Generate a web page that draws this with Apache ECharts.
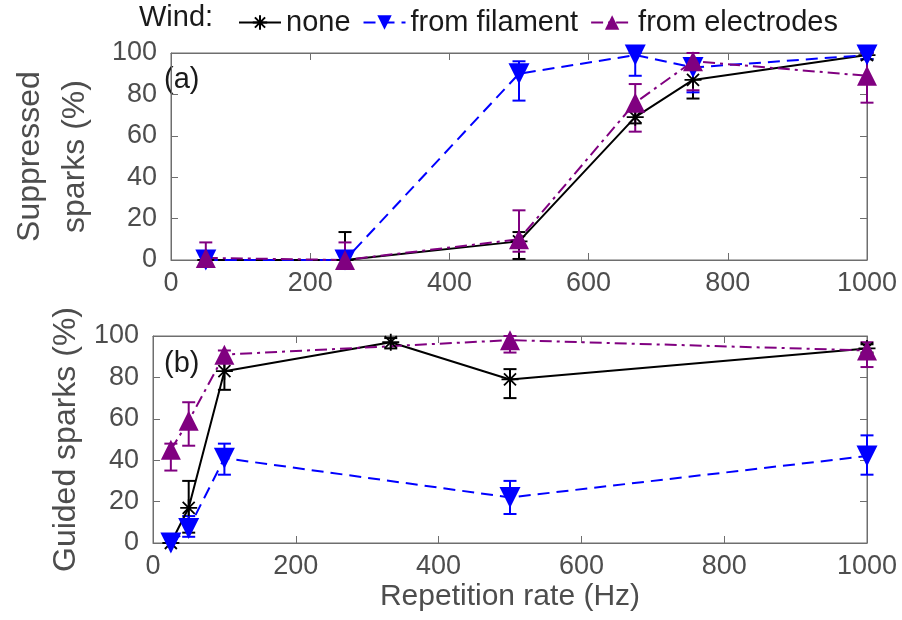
<!DOCTYPE html>
<html>
<head>
<meta charset="utf-8">
<script src="https://cdn.jsdelivr.net/npm/echarts@6/dist/echarts.min.js"></script>
<style>
  html, body { margin: 0; padding: 0; background: #fff; }
  #chart { width: 902px; height: 620px; }
</style>
</head>
<body>
<div id="chart"></div>
<script>
// panel (a): suppressed sparks
const topRate = [50, 250, 500, 667, 750, 1000];
const topNone = [0, 0, 9, 69, 87, 99];
const topNoneLow = [0, 0, 0.5, 66, 78, 97];
const topNoneHigh = [4, 13.5, 13.5, 72, 95, 100];
const topFil = [0, 0, 90, 99, 93, 99];
const topFilLow = [0, 0, 77, 89, 81, 97];
const topFilHigh = [2, 2, 96, 100, 97, 100];
const topElec = [1, 0, 10, 76, 96, 89];
const topElecLow = [0, 0, 4, 62, 82, 76];
const topElecHigh = [8.5, 8.5, 24, 85, 100, 100];

// panel (b): guided sparks
const botRateNone = [25, 50, 100, 333, 500, 1000];
const botNone = [0, 17, 83, 97, 79, 94];
const botNoneLow = [0, 5, 74, 94, 70, 92];
const botNoneHigh = [2, 30, 88, 99, 84, 96];
const botRateWind = [25, 50, 100, 500, 1000];
const botFil = [0, 7, 41, 22, 42];
const botFilLow = [0, 3, 33, 14, 33];
const botFilHigh = [2, 13, 48, 30, 52];
const botElec = [45, 59, 91, 98, 93];
const botElecLow = [35, 47, 87, 92, 85];
const botElecHigh = [48, 68, 93, 100, 97];

const FONT = 'Liberation Sans, Arial, Helvetica, sans-serif';
const BLACK = '#000000', BLUE = '#0000ff', PURPLE = '#800080';
const FRAME = '#6e6e6e';
const ASTERISK = 'path://M0,-10L0,10M-10,0L10,0M-7.07,-7.07L7.07,7.07M-7.07,7.07L7.07,-7.07';
const DOWN_TRI = 'path://M0,0L20,0L10,17Z';

const pairs = (xs, ys) => xs.map((x, i) => [x, ys[i]]);
const errs = (xs, lo, hi) => xs.map((x, i) => [x, lo[i], hi[i]]);

function renderErr(params, api) {
  const x = api.value(0);
  const lo = api.coord([x, api.value(1)]);
  const hi = api.coord([x, api.value(2)]);
  const w = 6.5;
  const style = { stroke: api.visual('color'), lineWidth: 2, fill: null };
  return {
    type: 'group',
    children: [
      { type: 'line', shape: { x1: lo[0], y1: lo[1], x2: hi[0], y2: hi[1] }, style },
      { type: 'line', shape: { x1: lo[0] - w, y1: lo[1], x2: lo[0] + w, y2: lo[1] }, style },
      { type: 'line', shape: { x1: hi[0] - w, y1: hi[1], x2: hi[0] + w, y2: hi[1] }, style }
    ]
  };
}

const axisLine = { show: true, onZero: false, lineStyle: { color: FRAME, width: 1 } };
const tickIn = { show: true, inside: true, length: 7, lineStyle: { color: FRAME } };
const tickLabel = { fontSize: 27, color: '#4d4d4d', fontFamily: FONT, formatter: v => String(v) };

function xAx(grid, pos) {
  const main = pos === 'bottom';
  return {
    type: 'value', gridIndex: grid, position: pos, min: 0, max: 1000, interval: 200,
    axisLine, axisTick: tickIn, splitLine: { show: false },
    axisLabel: main ? Object.assign({ margin: 10 }, tickLabel) : { show: false }
  };
}
function yAx(grid, pos) {
  const main = pos === 'left';
  return {
    type: 'value', gridIndex: grid, position: pos, min: 0, max: 100, interval: 20,
    axisLine, axisTick: tickIn, splitLine: { show: false },
    axisLabel: main ? Object.assign({ margin: 14 }, tickLabel) : { show: false }
  };
}

const xAxes = [xAx(0, 'bottom'), xAx(0, 'top'), xAx(1, 'bottom'), xAx(1, 'top')];
xAxes[2].name = 'Repetition rate (Hz)';
xAxes[2].nameLocation = 'middle';
xAxes[2].nameGap = 39;
xAxes[2].nameTextStyle = { fontSize: 30, color: '#4d4d4d', fontFamily: FONT };

const yAxes = [yAx(0, 'left'), yAx(0, 'right'), yAx(1, 'left'), yAx(1, 'right')];
yAxes[0].name = 'Suppressed\nsparks (%)';
yAxes[0].nameLocation = 'middle';
yAxes[0].nameGap = 73;
yAxes[0].nameTextStyle = { fontSize: 32, lineHeight: 45, color: '#4d4d4d', fontFamily: FONT };
yAxes[2].name = 'Guided sparks (%)';
yAxes[2].nameLocation = 'middle';
yAxes[2].nameGap = 67;
yAxes[2].nameTextStyle = { fontSize: 32, lineHeight: 34, color: '#4d4d4d', fontFamily: FONT };

const styles = {
  'none': { color: BLACK, symbol: ASTERISK, size: 17, dash: 'solid' },
  'from filament': { color: BLUE, symbol: DOWN_TRI, size: 21, dash: [12, 7] },
  'from electrodes': { color: PURPLE, symbol: 'triangle', size: 20, dash: [12, 5, 3, 5] }
};

function lineSeries(name, grid, data) {
  const s = styles[name];
  const isStar = name === 'none';
  return {
    name, type: 'line', xAxisIndex: grid * 2, yAxisIndex: grid * 2, data,
    symbol: s.symbol, symbolSize: s.size, showSymbol: true, clip: false, z: 3,
    lineStyle: { color: s.color, width: 2, type: s.dash },
    itemStyle: isStar
      ? { color: s.color, borderColor: s.color, borderWidth: 1.8 }
      : { color: s.color, borderWidth: 0 },
    emphasis: { disabled: true },
    animation: false
  };
}
function errSeries(name, grid, data) {
  return {
    name: name + ' err', type: 'custom', xAxisIndex: grid * 2, yAxisIndex: grid * 2,
    data, renderItem: renderErr, encode: { x: 0, y: [1, 2] }, clip: false, z: 2,
    itemStyle: { color: styles[name].color }, animation: false
  };
}

const series = [
  errSeries('none', 0, errs(topRate, topNoneLow, topNoneHigh)),
  errSeries('from filament', 0, errs(topRate, topFilLow, topFilHigh)),
  errSeries('from electrodes', 0, errs(topRate, topElecLow, topElecHigh)),
  errSeries('none', 1, errs(botRateNone, botNoneLow, botNoneHigh)),
  errSeries('from filament', 1, errs(botRateWind, botFilLow, botFilHigh)),
  errSeries('from electrodes', 1, errs(botRateWind, botElecLow, botElecHigh)),
  lineSeries('none', 0, pairs(topRate, topNone)),
  lineSeries('from filament', 0, pairs(topRate, topFil)),
  lineSeries('from electrodes', 0, pairs(topRate, topElec)),
  lineSeries('none', 1, pairs(botRateNone, botNone)),
  lineSeries('from filament', 1, pairs(botRateWind, botFil)),
  lineSeries('from electrodes', 1, pairs(botRateWind, botElec))
];

const chart = echarts.init(document.getElementById('chart'), null, { renderer: 'canvas' });

chart.setOption({
  backgroundColor: '#ffffff',
  animation: false,
  grid: [
    { left: 153, right: 35, top: 53, height: 207, show: true, borderColor: FRAME, borderWidth: 1, backgroundColor: 'transparent' },
    { left: 153, right: 35, top: 336, height: 207, show: true, borderColor: FRAME, borderWidth: 1, backgroundColor: 'transparent' }
  ],
  xAxis: xAxes,
  yAxis: yAxes,
  legend: {
    data: ['none', 'from filament', 'from electrodes'],
    left: 233, top: 3,
    itemWidth: 42, itemHeight: 18, itemGap: 12,
    textStyle: { fontSize: 29, color: '#1a1a1a', fontFamily: FONT },
    selectedMode: false
  },
  graphic: [
    { type: 'text', left: 139, top: 3,
      style: { text: 'Wind:', fontSize: 29, fill: '#1a1a1a', fontFamily: FONT, lineHeight: 28 } },
    { type: 'text', left: 164, top: 65,
      style: { text: '(a)', fontSize: 29, fill: '#1a1a1a', fontFamily: FONT } },
    { type: 'text', left: 164, top: 349,
      style: { text: '(b)', fontSize: 29, fill: '#1a1a1a', fontFamily: FONT } }
  ],
  series
});
</script>
</body>
</html>
